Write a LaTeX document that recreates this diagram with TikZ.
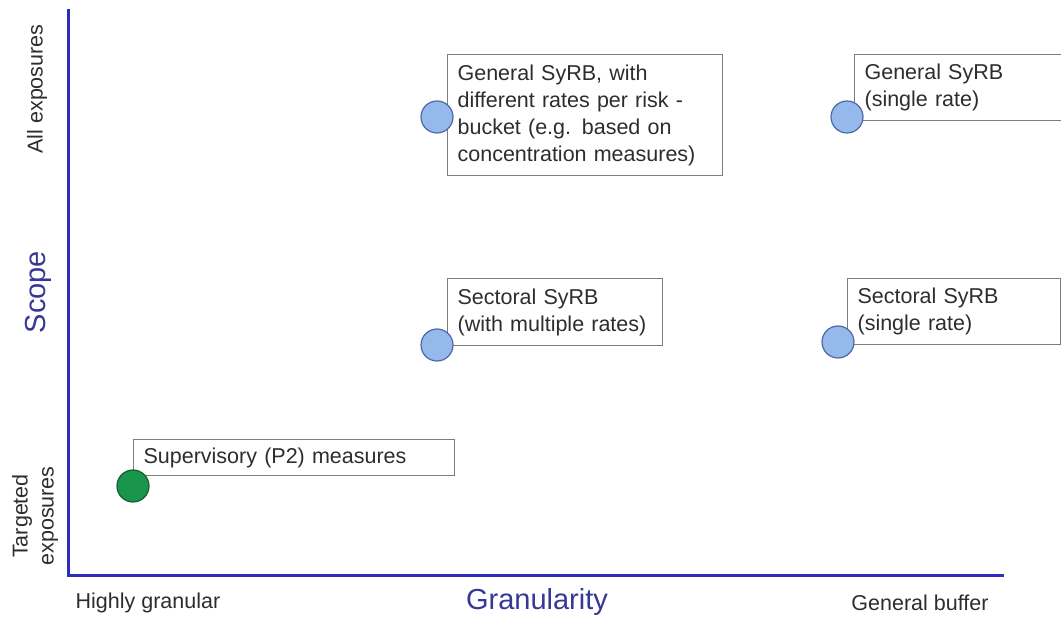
\documentclass[tikz,border=0pt]{standalone}
\usepackage{fontspec}
\setmainfont{Liberation Sans}
\usepackage{tikz}

\definecolor{axisblue}{RGB}{45,45,190}
\definecolor{titleblue}{RGB}{55,55,150}
\definecolor{bubbleblue}{RGB}{150,185,235}
\definecolor{bubbleedge}{RGB}{75,105,170}
\definecolor{bubblegreen}{RGB}{25,150,75}
\definecolor{greenedge}{RGB}{20,95,45}
\definecolor{boxgrey}{RGB}{125,125,125}
\definecolor{textgrey}{RGB}{45,45,45}

\tikzset{
  box/.style={draw=boxgrey, line width=1.2pt, anchor=north west, align=left,
    inner xsep=10pt, inner ysep=4pt, text=textgrey,
    font=\fontsize{21.5}{27}\selectfont},
  bubble/.style={circle, draw=bubbleedge, fill=bubbleblue, line width=1.2pt,
    minimum size=32pt},
  axislabel/.style={text=textgrey, align=center,
    font=\fontsize{21.5}{26}\selectfont},
  axistitle/.style={text=titleblue, font=\fontsize{29}{32}\selectfont}
}

\begin{document}
\begin{tikzpicture}[x=1pt,y=1pt]

\tikzstyle{every node}+=[inner sep=0pt]
\useasboundingbox (0,0) rectangle (1061,-617);
\clip (0,0) rectangle (1061,-617);
\coordinate (ytop) at (68,-9);
\coordinate (origin) at (68,-575);
\coordinate (xend) at (1004,-575);
\draw [axisblue, line width=3pt] (ytop) -- (origin) -- (xend);
\node [axislabel, rotate=90] (allexp) at (37,-89) {All exposures};
\node [axistitle, rotate=90] (scope) at (38,-292) {Scope};
\node [axislabel, rotate=90] (targexp) at (35,-516) {Targeted\\exposures};
\node [axislabel] (highgran) at (148,-603) {Highly granular};
\node [axistitle] (granularity) at (537,-602) {Granularity};
\node [axislabel] (genbuffer) at (920,-603) {General buffer};
\node [box, text width=255pt, minimum height=121pt] (genrisk) at (447,-54)
  {General SyRB, with\\different rates per risk -\\bucket (e.g. based on\\concentration measures)};
\node [box, text width=210pt, minimum height=66pt] (gensingle) at (854,-54)
  {General SyRB\\(single rate)};
\node [box, text width=195pt, minimum height=67pt] (secmulti) at (447,-278)
  {Sectoral SyRB\\(with multiple rates)};
\node [box, text width=193pt, minimum height=66pt] (secsingle) at (847,-278)
  {Sectoral SyRB\\(single rate)};
\node [box, text width=301pt, minimum height=36pt] (superv) at (133,-439)
  {Supervisory (P2) measures};
\node [bubble] (dotgenrisk) at (437,-117) {};
\node [bubble] (dotgensingle) at (847,-117) {};
\node [bubble] (dotsecmulti) at (437,-345) {};
\node [bubble] (dotsecsingle) at (838,-342) {};
\node [bubble, fill=bubblegreen, draw=greenedge] (dotsuperv) at (133,-486) {};
\end{tikzpicture}
\end{document}
